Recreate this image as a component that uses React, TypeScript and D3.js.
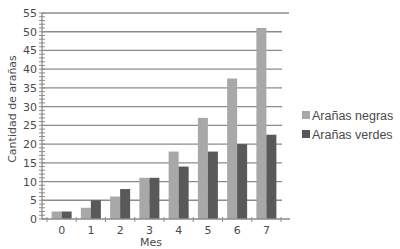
import React from "react";
import * as d3 from "d3";

const months = ["0", "1", "2", "3", "4", "5", "6", "7"];
const negras = [2, 3, 6, 11, 18, 27, 37.5, 51];
const verdes = [2, 5, 8, 11, 14, 18, 20, 22.5];
const seriesNames = ["Arañas negras", "Arañas verdes"];
const colors = ["#a8a8a8", "#595959"];
const yTicks = [0, 5, 10, 15, 20, 25, 30, 35, 40, 45, 50, 55];

export default function App() {
  const W = 400, H = 249;
  const x0 = 42;
  const y = d3.scaleLinear().domain([0, 55]).range([219, 13]);
  const x = d3.scaleBand().domain(months).range([47, 281]).paddingInner(0).paddingOuter(0);
  const barW = 10;
  const font = "'DejaVu Sans', Verdana, sans-serif";
  const legendFont = "'Liberation Sans', Arial, sans-serif";
  const textColor = "#4a4a4a";
  const minor = d3.range(0, 56, 1);
  const xTickPos = d3.range(0, months.length + 1).map((k) => (x(months[0]) as number) + k * x.bandwidth());
  return (
    <svg width={W} height={H} style={{ position: "absolute", left: 0, top: 0 }}>
      <rect width={W} height={H} fill="#fff" />
      {yTicks.filter((t) => t > 0).map((t) => (
        <line key={"g" + t} x1={x0} x2={t === 55 ? 289 : 282} y1={y(t)} y2={y(t)} stroke="#8c8c8c" strokeWidth={1.3} />
      ))}
      {months.map((m, i) => {
        const cx = (x(m) as number) + x.bandwidth() / 2;
        return (
          <g key={m}>
            <rect x={cx - barW} y={y(negras[i])} width={barW} height={y(0) - y(negras[i])} fill={colors[0]} />
            <rect x={cx} y={y(verdes[i])} width={barW} height={y(0) - y(verdes[i])} fill={colors[1]} />
            <text x={cx} y={234} textAnchor="middle" fontFamily={font} fontSize={11} fill={textColor}>{m}</text>
          </g>
        );
      })}
      <line x1={x0} x2={x0} y1={y(55)} y2={y(0)} stroke="#8c8c8c" strokeWidth={1.3} />
      <line x1={x0} x2={290} y1={y(0)} y2={y(0)} stroke="#8c8c8c" strokeWidth={1.3} />
      {minor.map((t) => (
        <line key={"m" + t} x1={x0 - 3} x2={x0 + 3} y1={y(t)} y2={y(t)} stroke="#8c8c8c" strokeWidth={1} />
      ))}
      {xTickPos.map((p, k) => (
        <line key={"xt" + k} x1={p} x2={p} y1={y(0) - 2} y2={y(0) + 3} stroke="#8c8c8c" strokeWidth={1} />
      ))}
      {yTicks.map((t) => (
        <text key={"yl" + t} x={37} y={y(t) + 4} textAnchor="end" fontFamily={font} fontSize={11} fill={textColor}>{t}</text>
      ))}
      <text transform={`translate(16,${109}) rotate(-90)`} textAnchor="middle" fontFamily={font} fontSize={11} fill={textColor}>Cantidad de arañas</text>
      <text x={151} y={246} textAnchor="middle" fontFamily={font} fontSize={11} fill={textColor}>Mes</text>
      {seriesNames.map((s, i) => (
        <g key={s}>
          <rect x={302} y={111 + i * 19} width={8} height={8} fill={colors[i]} />
          <text x={312} y={120 + i * 19} fontFamily={legendFont} fontSize={12.5} fill={textColor}>{s}</text>
        </g>
      ))}
    </svg>
  );
}
